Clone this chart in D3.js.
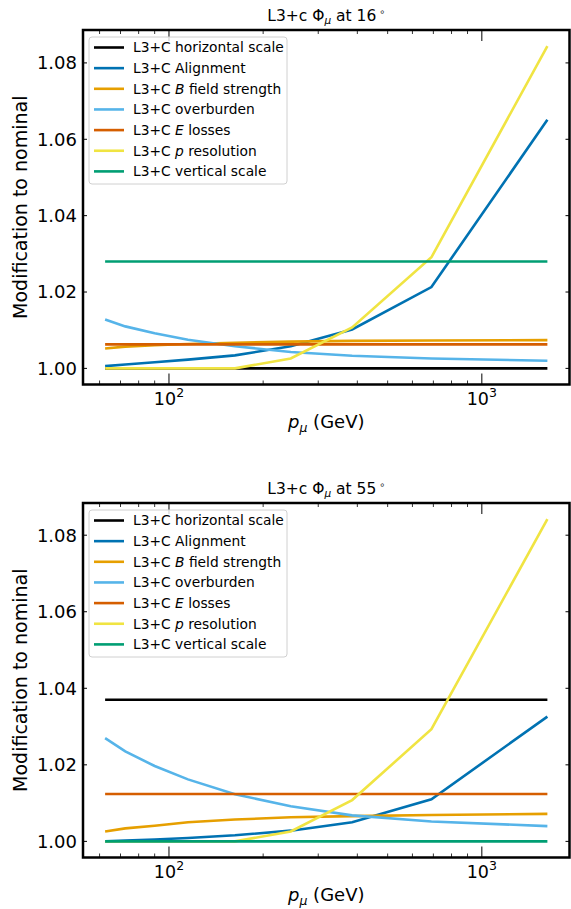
<!DOCTYPE html>
<html>
<head>
<meta charset="utf-8">
<script src="https://cdn.jsdelivr.net/npm/d3@7"></script>
<style>
  body { margin: 0; background: #fff; }
  svg { font-family: "DejaVu Sans", sans-serif; }
</style>
</head>
<body>
<svg id="chart" width="571" height="909"></svg>
<script>
// ---------- data ----------
const momentum = [62.5, 72.5, 90, 115, 162.5, 245, 385, 690, 1620];
const seriesNames = ["horizontal", "alignment", "bfield", "overburden", "elosses", "presolution", "vertical"];
const seriesColors = ["#000000", "#0072B2", "#E69F00", "#56B4E9", "#D55E00", "#F0E442", "#009E73"];
const legendLabels = [
  ["L3+C horizontal scale"],
  ["L3+C Alignment"],
  ["L3+C ", ["B"], " field strength"],
  ["L3+C overburden"],
  ["L3+C ", ["E"], " losses"],
  ["L3+C ", ["p"], " resolution"],
  ["L3+C vertical scale"]
];
const yTickValues = [1.00, 1.02, 1.04, 1.06, 1.08];
const xMajorTicks = [100, 1000];
const xMajorExps = ["2", "3"];
const xMinorTicks = [60, 70, 80, 90, 200, 300, 400, 500, 600, 700, 800, 900];

// panel 1: 16 degrees
const angle16 = "16";
const horizontal16 = [1.0000, 1.0000, 1.0000, 1.0000, 1.0000, 1.0000, 1.0000, 1.0000, 1.0000];
const alignment16 = [1.0006, 1.0010, 1.0016, 1.0023, 1.0034, 1.0058, 1.0102, 1.0213, 1.0651];
const bfield16 = [1.0052, 1.0057, 1.0061, 1.0064, 1.0067, 1.0070, 1.0072, 1.0073, 1.0074];
const overburden16 = [1.0128, 1.0110, 1.0092, 1.0075, 1.0058, 1.0043, 1.0033, 1.0026, 1.0020];
const elosses16 = [1.0063, 1.0063, 1.0063, 1.0063, 1.0063, 1.0063, 1.0063, 1.0063, 1.0063];
const presolution16 = [1.0000, 1.0000, 1.0000, 1.0000, 1.0000, 1.0026, 1.0107, 1.0291, 1.0844];
const vertical16 = [1.0280, 1.0280, 1.0280, 1.0280, 1.0280, 1.0280, 1.0280, 1.0280, 1.0280];

// panel 2: 55 degrees
const angle55 = "55";
const horizontal55 = [1.0370, 1.0370, 1.0370, 1.0370, 1.0370, 1.0370, 1.0370, 1.0370, 1.0370];
const alignment55 = [1.0000, 1.0002, 1.0005, 1.0009, 1.0016, 1.0028, 1.0050, 1.0110, 1.0326];
const bfield55 = [1.0026, 1.0034, 1.0041, 1.0050, 1.0057, 1.0063, 1.0066, 1.0069, 1.0072];
const overburden55 = [1.0270, 1.0235, 1.0197, 1.0162, 1.0123, 1.0092, 1.0068, 1.0052, 1.0040];
const elosses55 = [1.0124, 1.0124, 1.0124, 1.0124, 1.0124, 1.0124, 1.0124, 1.0124, 1.0124];
const presolution55 = [1.0000, 1.0000, 1.0000, 1.0000, 1.0000, 1.0026, 1.0108, 1.0293, 1.0842];
const vertical55 = [1.0000, 1.0000, 1.0000, 1.0000, 1.0000, 1.0000, 1.0000, 1.0000, 1.0000];

const panels = [
  { angle: angle16, top: 30, series: [horizontal16, alignment16, bfield16, overburden16, elosses16, presolution16, vertical16] },
  { angle: angle55, top: 503, series: [horizontal55, alignment55, bfield55, overburden55, elosses55, presolution55, vertical55] }
];

// ---------- drawing ----------
const svg = d3.select("#chart");
const left = 83, right = 569.5, plotH = 354.5;

panels.forEach(panel => {
  const top = panel.top, bottom = top + plotH;
  const g = svg.append("g");

  // x scale: log, 5% margin in log space
  const lx0 = Math.log10(d3.min(momentum)), lx1 = Math.log10(d3.max(momentum));
  const mx = (lx1 - lx0) * 0.05;
  const x = d3.scaleLog().domain([Math.pow(10, lx0 - mx), Math.pow(10, lx1 + mx)]).range([left, right]);

  const allVals = panel.series.flat();
  const y0 = d3.min(allVals), y1 = d3.max(allVals);
  const my = (y1 - y0) * 0.05;
  const y = d3.scaleLinear().domain([y0 - my, y1 + my]).range([bottom, top]);

  // lines
  const line = d3.line().x((d, i) => x(momentum[i])).y(d => y(d));
  panel.series.forEach((vals, k) => {
    g.append("path").datum(vals)
      .attr("d", line)
      .attr("fill", "none")
      .attr("stroke", seriesColors[k])
      .attr("stroke-width", 2.6)
      .attr("stroke-linejoin", "miter");
  });

  // y ticks (inward, both sides)
  yTickValues.forEach(v => {
    const yy = y(v);
    g.append("line").attr("x1", left).attr("x2", left + 4).attr("y1", yy).attr("y2", yy).attr("stroke", "#000").attr("stroke-width", 1);
    g.append("line").attr("x1", right).attr("x2", right - 4).attr("y1", yy).attr("y2", yy).attr("stroke", "#000").attr("stroke-width", 1);
    g.append("text").attr("x", left - 6).attr("y", yy).attr("dy", "0.36em")
      .attr("text-anchor", "end").attr("font-size", 18).text(d3.format(".2f")(v));
  });

  // x ticks
  xMajorTicks.forEach((v, i) => {
    const xx = x(v);
    g.append("line").attr("x1", xx).attr("x2", xx).attr("y1", bottom).attr("y2", bottom - 11).attr("stroke", "#000").attr("stroke-width", 1);
    g.append("line").attr("x1", xx).attr("x2", xx).attr("y1", top).attr("y2", top + 11).attr("stroke", "#000").attr("stroke-width", 1);
    const t = g.append("text").attr("x", xx).attr("y", bottom + 20).attr("text-anchor", "middle").attr("font-size", 17.5);
    t.append("tspan").text("10");
    t.append("tspan").attr("dy", -7.5).attr("font-size", 12.5).text(xMajorExps[i]);
  });
  xMinorTicks.forEach(v => {
    const xx = x(v);
    g.append("line").attr("x1", xx).attr("x2", xx).attr("y1", bottom).attr("y2", bottom - 4).attr("stroke", "#000").attr("stroke-width", 0.8);
    g.append("line").attr("x1", xx).attr("x2", xx).attr("y1", top).attr("y2", top + 4).attr("stroke", "#000").attr("stroke-width", 0.8);
  });

  // frame
  g.append("rect").attr("x", left).attr("y", top).attr("width", right - left).attr("height", plotH)
    .attr("fill", "none").attr("stroke", "#000").attr("stroke-width", 2.5);

  // title
  const cx = (left + right) / 2;
  const title = g.append("text").attr("x", cx).attr("y", top - 9.5).attr("text-anchor", "middle").attr("font-size", 15.5);
  title.append("tspan").text("L3+c Φ");
  title.append("tspan").attr("dy", 3.5).attr("font-size", 10.5).attr("font-style", "italic").text("μ");
  title.append("tspan").attr("dy", -3.5).text(" at " + panel.angle);
  title.append("tspan").attr("dy", -6).attr("font-size", 9.5).text(" ∘");

  // x label
  const xl = g.append("text").attr("x", cx).attr("y", bottom + 43.5).attr("text-anchor", "middle").attr("font-size", 18);
  xl.append("tspan").attr("font-style", "italic").text("p");
  xl.append("tspan").attr("dy", 3.5).attr("font-size", 12.5).attr("font-style", "italic").text("μ");
  xl.append("tspan").attr("dy", -3.5).text(" (GeV)");

  // y label
  g.append("text").attr("transform", `translate(27,${(top + bottom) / 2}) rotate(-90)`)
    .attr("text-anchor", "middle").attr("font-size", 19).text("Modification to nominal");

  // legend
  const lgx = 89, lgy = top + 7, lgw = 198, lgh = 147;
  g.append("rect").attr("x", lgx).attr("y", lgy).attr("width", lgw).attr("height", lgh)
    .attr("rx", 3).attr("fill", "#fff").attr("fill-opacity", 0.8).attr("stroke", "#d0d0d0").attr("stroke-width", 1);
  legendLabels.forEach((parts, k) => {
    const ly = lgy + 10.5 + k * 20.65;
    g.append("line").attr("x1", 94).attr("x2", 124).attr("y1", ly).attr("y2", ly)
      .attr("stroke", seriesColors[k]).attr("stroke-width", 2.6);
    const t = g.append("text").attr("x", 133).attr("y", ly).attr("dy", "0.36em").attr("font-size", 13.8);
    parts.forEach(p => {
      if (Array.isArray(p)) t.append("tspan").attr("font-style", "italic").text(p[0]);
      else t.append("tspan").text(p);
    });
  });
});
</script>
</body>
</html>
